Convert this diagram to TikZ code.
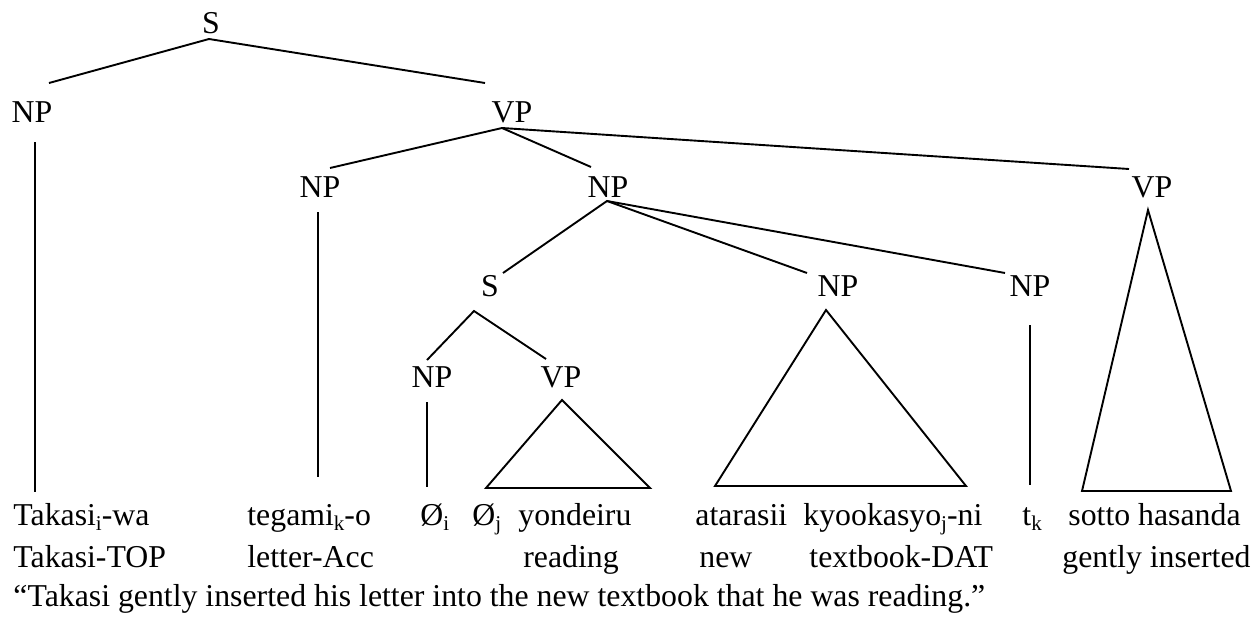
\documentclass[tikz,border=0pt]{standalone}
\usepackage{fontspec}
\setmainfont{Liberation Serif}
\newcommand{\subx}[1]{\raisebox{-0.17em}{\fontsize{10.5}{11}\selectfont #1}}
\tikzset{
  cat/.style={inner sep=0pt, anchor=base},
  word/.style={inner sep=0pt, anchor=base west},
  branch/.style={line width=0.95pt, line join=miter},
}
\begin{document}
\begin{tikzpicture}[x=0.5pt, y=-0.5pt, font=\fontsize{15.9}{18}\selectfont]
\useasboundingbox (0,0) rectangle (1252,616);
% category labels
\node[cat] (S)   at (211,33)  {S};
\node[cat] (NPa) at (32,122)  {NP};
\node[cat] (VPa) at (512,122) {VP};
\node[cat] (NPb) at (320,197) {NP};
\node[cat] (NPc) at (608,197) {NP};
\node[cat] (VPb) at (1152,197) {VP};
\node[cat] (Sb)  at (490,296) {S};
\node[cat] (NPd) at (838,296) {NP};
\node[cat] (NPe) at (1030,296) {NP};
\node[cat] (NPf) at (432,387) {NP};
\node[cat] (VPc) at (561,387) {VP};
% connector end points
\coordinate (S-d)   at (209,39);
\coordinate (NPa-u) at (49,83);
\coordinate (VPa-u) at (485,83);
\coordinate (NPa-d) at (35,142);
\coordinate (NPa-e) at (35,492);
\coordinate (VPa-d) at (502,128);
\coordinate (NPb-u) at (330,168);
\coordinate (NPc-u) at (591,167);
\coordinate (VPb-u) at (1129,169);
\coordinate (NPb-d) at (318,212);
\coordinate (NPb-e) at (318,477);
\coordinate (NPc-d) at (607,201);
\coordinate (Sb-u)  at (503,273);
\coordinate (NPd-u) at (807,273);
\coordinate (NPe-u) at (1005,273);
\coordinate (Sb-d)  at (474,311);
\coordinate (NPf-u) at (427,360);
\coordinate (VPc-u) at (546,359);
\coordinate (NPf-d) at (427,402);
\coordinate (NPf-e) at (427,487);
\coordinate (VPc-t) at (562,400);
\coordinate (VPc-l) at (486,488);
\coordinate (VPc-r) at (650,488);
\coordinate (NPd-t) at (826,310);
\coordinate (NPd-l) at (715,486);
\coordinate (NPd-r) at (966,486);
\coordinate (NPe-d) at (1030,325);
\coordinate (NPe-e) at (1030,485);
\coordinate (VPb-t) at (1148,210);
\coordinate (VPb-l) at (1082,491);
\coordinate (VPb-r) at (1231,491);
% branches
\draw[branch] (NPa-u) -- (S-d) -- (VPa-u);
\draw[branch] (NPa-d) -- (NPa-e);
\draw[branch] (NPb-u) -- (VPa-d) -- (NPc-u);
\draw[branch] (VPa-d) -- (VPb-u);
\draw[branch] (NPb-d) -- (NPb-e);
\draw[branch] (Sb-u) -- (NPc-d) -- (NPd-u);
\draw[branch] (NPc-d) -- (NPe-u);
\draw[branch] (NPf-u) -- (Sb-d) -- (VPc-u);
\draw[branch] (NPf-d) -- (NPf-e);
\draw[branch] (VPc-t) -- (VPc-l) -- (VPc-r) -- cycle;
\draw[branch] (NPd-t) -- (NPd-l) -- (NPd-r) -- cycle;
\draw[branch] (NPe-d) -- (NPe-e);
\draw[branch] (VPb-t) -- (VPb-l) -- (VPb-r) -- cycle;
% words, row 1
\node[word] (w1) at (13,525)   {Takasi\subx{i}-wa};
\node[word] (w2) at (247,525)  {tegami\subx{k}-o};
\node[word] (w3) at (420,525)  {Ø\subx{i}};
\node[word] (w4) at (472,525)  {Ø\subx{j}};
\node[word] (w5) at (518,525)  {yondeiru};
\node[word] (w6) at (695,525)  {atarasii};
\node[word] (w7) at (803,525)  {kyookasyo\subx{j}-ni};
\node[word] (w8) at (1022,525) {t\subx{k}};
\node[word] (w9) at (1068,525) {sotto hasanda};
% glosses, row 2
\node[word] (g1) at (13,567)   {Takasi-TOP};
\node[word] (g2) at (247,567)  {letter-Acc};
\node[word] (g5) at (523,567)  {reading};
\node[word] (g6) at (699,567)  {new};
\node[word] (g7) at (809,567)  {textbook-DAT};
\node[word] (g9) at (1062,567) {gently inserted};
% translation
\node[word] (tr) at (13,606) {“Takasi gently inserted his letter into the new textbook that he was reading.”};
\end{tikzpicture}
\end{document}
